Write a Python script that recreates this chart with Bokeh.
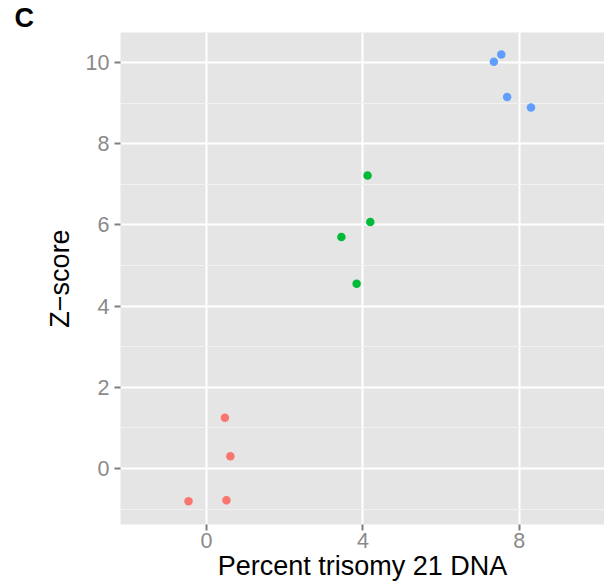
from bokeh.plotting import figure
from bokeh.models import FixedTicker, Title, Range1d
from bokeh.embed import file_html
from bokeh.resources import INLINE

# ---- data ----
group_colors = ["#F8766D", "#00BA38", "#619CFF"]
red_x = [0.47, 0.61, -0.46, 0.51]
red_y = [1.25, 0.30, -0.81, -0.78]
green_x = [4.12, 4.19, 3.45, 3.84]
green_y = [7.22, 6.07, 5.70, 4.55]
blue_x = [7.35, 7.54, 7.69, 8.30]
blue_y = [10.02, 10.20, 9.15, 8.89]
x_ticks = [0, 4, 8]
y_ticks = [0, 2, 4, 6, 8, 10]
y_minor = [-1, 1, 3, 5, 7, 9]

FONT = "Liberation Sans"

p = figure(width=604, height=587, output_backend="svg", toolbar_location=None,
           x_range=Range1d(-2.2, 10.18), y_range=Range1d(-1.38, 10.74),
           min_border_left=120, min_border_top=31, min_border_right=0,
           min_border_bottom=63)
p.background_fill_color = "#E5E5E5"
p.border_fill_color = "white"
p.outline_line_color = None

for xs, ys, c in [(red_x, red_y, group_colors[0]),
                  (green_x, green_y, group_colors[1]),
                  (blue_x, blue_y, group_colors[2])]:
    p.scatter(xs, ys, size=8.5, color=c, line_color=None)

p.xaxis.ticker = FixedTicker(ticks=x_ticks)
p.yaxis.ticker = FixedTicker(ticks=y_ticks, minor_ticks=y_minor)
p.xgrid.ticker = FixedTicker(ticks=x_ticks)
p.ygrid.ticker = FixedTicker(ticks=y_ticks, minor_ticks=y_minor)

for g in (p.xgrid[0], p.ygrid[0]):
    g.grid_line_color = "white"
    g.grid_line_width = 2
p.ygrid.minor_grid_line_color = "#F2F2F2"
p.ygrid.minor_grid_line_width = 1.2

for ax in (p.xaxis[0], p.yaxis[0]):
    ax.axis_line_color = None
    ax.major_tick_line_color = "#7F7F7F"
    ax.major_tick_line_width = 2
    ax.major_tick_out = 6
    ax.major_tick_in = 0
    ax.minor_tick_line_color = None
    ax.major_label_text_color = "#8A8A8A"
    ax.major_label_text_font = FONT
    ax.major_label_text_font_size = "21.5px"
    ax.axis_label_text_font = FONT
    ax.axis_label_text_font_size = "27px"
    ax.axis_label_text_font_style = "normal"
    ax.axis_label_text_color = "black"

p.xaxis.axis_label = "Percent trisomy 21 DNA"
p.yaxis.axis_label = "Z\u2212score"
p.xaxis.major_label_standoff = 2
p.xaxis.axis_label_standoff = 0
p.yaxis.major_label_standoff = 5
p.yaxis.axis_label_standoff = 8

panel_title = Title(text="C", align="left", offset=-106, standoff=0,
                    text_font=FONT, text_font_style="bold",
                    text_font_size="27px", text_color="black")
p.add_layout(panel_title, "above")

open("out.html", "w").write(file_html(p, INLINE))
